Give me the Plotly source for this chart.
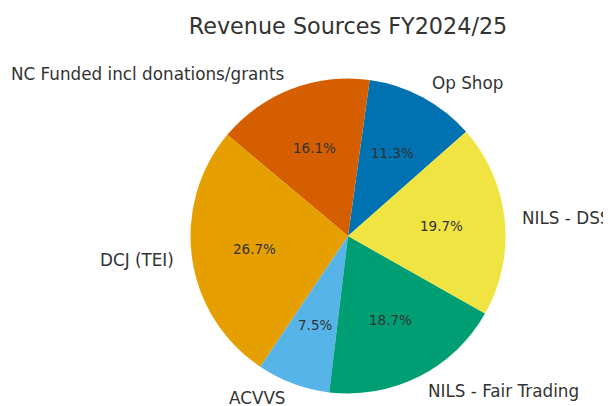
import numpy as np
import plotly.graph_objects as go

labels = ["Op Shop", "NC Funded incl donations/grants", "DCJ (TEI)", "ACVVS",
          "NILS - Fair Trading", "NILS - DSS"]
values = [11.3, 16.1, 26.7, 7.5, 18.7, 19.7]
colors = ["#0072B2", "#D55E00", "#E69F00", "#56B4E9", "#009E73", "#F0E442"]

W, H = 611, 406
OFF = 8                       # page body margin in the browser
CX, CY, R = 348 - OFF, 236 - OFF, 157.5   # pie centre / radius in px
START = 41.4                  # degrees, counterclockwise from 3 o'clock
TEXT = "#333333"
FONT = "DejaVu Sans"

vals = np.array(values, dtype=float)
frac = vals / vals.sum()
cum = np.concatenate([[0], np.cumsum(frac)])
mid = np.radians(START + 360 * (cum[:-1] + cum[1:]) / 2)

# plotly (counterclockwise) puts the leading edge of the first slice at `rotation`
rot = 90 - (START + 360 * frac[0])

fig = go.Figure(go.Pie(
    labels=labels,
    values=values,
    marker=dict(colors=colors, line=dict(width=0)),
    sort=False,
    direction="counterclockwise",
    rotation=rot,
    textinfo="none",
    hoverinfo="label+percent",
    showlegend=False,
    domain=dict(x=[(CX - R) / W, (CX + R) / W],
                y=[(H - CY - R) / H, (H - CY + R) / H]),
))

# label / percentage positions like matplotlib (labeldistance 1.1, pctdistance 0.6)
for lab, f, a in zip(labels, frac, mid):
    c, s = np.cos(a), np.sin(a)
    fig.add_annotation(
        x=(CX + 1.1 * R * c) / W, y=(H - CY + 1.1 * R * s) / H,
        xref="paper", yref="paper", text=lab, showarrow=False,
        xanchor="left" if c > 0 else "right", yanchor="middle",
        font=dict(family=FONT, size=16.8, color=TEXT),
    )
    fig.add_annotation(
        x=(CX + 0.6 * R * c) / W, y=(H - CY + 0.6 * R * s) / H,
        xref="paper", yref="paper", text=f"{f * 100:.1f}%", showarrow=False,
        xanchor="center", yanchor="middle",
        font=dict(family=FONT, size=13.5, color=TEXT),
    )

fig.update_layout(
    width=W, height=H,
    margin=dict(l=0, r=0, t=0, b=0),
    paper_bgcolor="white",
    title=dict(text="Revenue Sources FY2024/25", x=CX / W, y=1 - (26 - OFF) / H,
               xanchor="center", yanchor="middle",
               font=dict(family=FONT, size=22.3, color=TEXT)),
)

fig.write_html("out.html")
